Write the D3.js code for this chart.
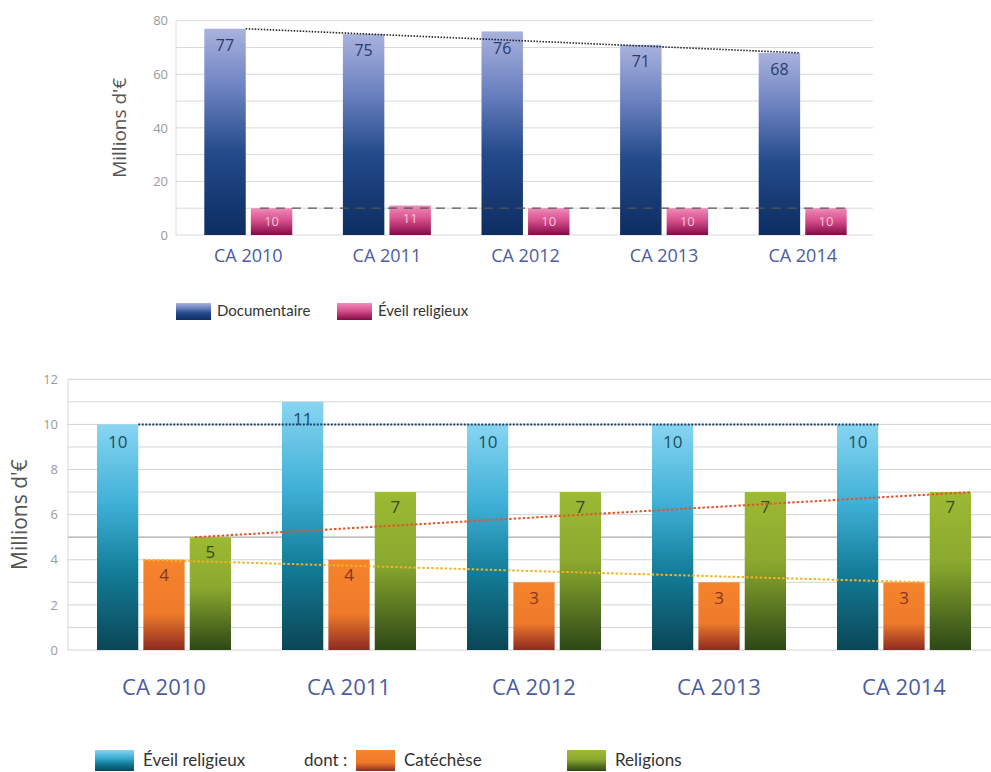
<!DOCTYPE html>
<html><head><meta charset="utf-8">
<script src="https://cdn.jsdelivr.net/npm/d3@7"></script>
<style>body{margin:0;background:#fff}svg{display:block}</style>
</head><body>
<script>
const categories = ["CA 2010","CA 2011","CA 2012","CA 2013","CA 2014"];
const documentaireValues = [77,75,76,71,68];
const eveilTopValues = [10,11,10,10,10];
const topTicks = [0,20,40,60,80];
const topGrid = [0,10,20,30,40,50,60,70,80];

const eveilValues = [10,11,10,10,10];
const catecheseValues = [4,4,3,3,3];
const religionsValues = [5,7,7,7,7];
const bottomTicks = [0,2,4,6,8,10,12];
const bottomGrid = [0,1,2,3,4,5,6,7,8,9,10,11,12];

const W = 991, H = 772;
const FONT = "'Open Sans', 'DejaVu Sans', sans-serif";
const LFONT = "Lato, 'Open Sans', sans-serif";
const svg = d3.select("body").append("svg").attr("width", W).attr("height", H);
const defs = svg.append("defs");
function grad(id, stops){
  const g = defs.append("linearGradient").attr("id", id).attr("x1",0).attr("y1",0).attr("x2",0).attr("y2",1);
  stops.forEach(s => g.append("stop").attr("offset", s[0]).attr("stop-color", s[1]));
}
grad("gDoc", [[0,"#a9b2de"],[0.3,"#6a80bf"],[0.6,"#234a8a"],[1,"#0d2d62"]]);
grad("gPink", [[0,"#ee8cb8"],[0.45,"#d9508e"],[1,"#820a46"]]);
grad("gCyan", [[0,"#88d5f2"],[0.35,"#3fb0d6"],[0.65,"#137e9a"],[1,"#0a4656"]]);
grad("gOrange", [[0,"#f5842c"],[0.6,"#ee7a2a"],[1,"#8e2a22"]]);
grad("gGreen", [[0,"#9dba34"],[0.45,"#8aa82e"],[1,"#2d4716"]]);

// ---------- TOP CHART ----------
const tx0 = d3.scaleBand().domain(categories).range([179, 872]).paddingInner(0).paddingOuter(0);
const tyS = d3.scaleLinear().domain([0,80]).range([235, 20.7]);
const tg = svg.append("g");
tg.selectAll("line.grid").data(topGrid).join("line")
  .attr("x1",176).attr("x2",873).attr("y1",d=>tyS(d)).attr("y2",d=>tyS(d))
  .attr("stroke","#d9d9d9").attr("stroke-width",1);
tg.append("line").attr("x1",176).attr("x2",176).attr("y1",tyS(80)).attr("y2",tyS(0)).attr("stroke","#dcdcdc");
const tAxis = d3.axisLeft(tyS).tickValues(topTicks).tickSize(0).tickPadding(0);
const tAx = tg.append("g").attr("transform","translate(168,0)").call(tAxis);
tAx.select(".domain").remove();
tAx.selectAll("text").attr("font-family",FONT).attr("font-size",13).attr("fill","#9a9a9a");
tg.append("text").attr("transform",`translate(121,${tyS(40)}) rotate(-90)`).attr("text-anchor","middle")
  .attr("dominant-baseline","middle").attr("font-family",FONT).attr("font-size",19).attr("fill","#555").text("Millions d'€");

const tx1 = d3.scaleBand().domain(["doc","pink"]).range([0, 88]).paddingInner(0.11);
const tGroupOff = (tx0.bandwidth() - 88)/2;
const topSeries = [
  {key:"doc", vals:documentaireValues, fill:"url(#gDoc)", lab:"#2c3a6c", off:18},
  {key:"pink", vals:eveilTopValues, fill:"url(#gPink)", lab:"#f6c4da", off:14}
];
topSeries.forEach(s=>{
  const bx = (c)=> tx0(c) + tGroupOff + tx1(s.key);
  tg.selectAll(null).data(categories).join("rect")
    .attr("x", c=>bx(c)).attr("width", tx1.bandwidth())
    .attr("y",(c,i)=>tyS(s.vals[i])).attr("height",(c,i)=>tyS(0)-tyS(s.vals[i]))
    .attr("fill", s.fill);
  tg.selectAll(null).data(categories).join("text")
    .attr("x", c=>bx(c)+tx1.bandwidth()/2).attr("y",(c,i)=>tyS(s.vals[i])+s.off)
    .attr("text-anchor","middle").attr("dominant-baseline","middle")
    .attr("font-family",FONT).attr("font-size", s.key==="doc"?16:13).attr("fill", s.lab)
    .text((c,i)=>s.vals[i]);
});
// trend lines top
{
  const c0 = categories[0], c4 = categories[4];
  const x1 = tx0(c0)+tGroupOff+tx1("doc")+tx1.bandwidth();
  const x2 = tx0(c4)+tGroupOff+tx1("doc")+tx1.bandwidth();
  tg.append("line").attr("x1",x1).attr("x2",x2)
    .attr("y1",tyS(documentaireValues[0])).attr("y2",tyS(documentaireValues[4]))
    .attr("stroke","#222").attr("stroke-width",1.6).attr("stroke-dasharray","1.5,1.5");
  const px1 = tx0(c0)+tGroupOff+tx1("pink")+9;
  const px2 = tx0(c4)+tGroupOff+tx1("pink")+tx1.bandwidth();
  tg.append("line").attr("x1",px1).attr("x2",px2)
    .attr("y1",tyS(eveilTopValues[0])).attr("y2",tyS(eveilTopValues[4]))
    .attr("stroke","#555").attr("stroke-width",1.3).attr("stroke-dasharray","9,7");
}
tg.selectAll(null).data(categories).join("text")
  .attr("x",c=>tx0(c)+tx0.bandwidth()/2).attr("y",257)
  .attr("text-anchor","middle").attr("dominant-baseline","middle")
  .attr("font-family",FONT).attr("font-size",18).attr("fill","#4d5c9e").text(c=>c);
// top legend
const topLegend = [{name:"Documentaire", fill:"url(#gDoc)", x:176},{name:"Éveil religieux", fill:"url(#gPink)", x:337}];
topLegend.forEach(l=>{
  tg.append("rect").attr("x",l.x).attr("y",303).attr("width",35).attr("height",17).attr("fill",l.fill);
  tg.append("text").attr("x",l.x+41).attr("y",312).attr("dominant-baseline","middle")
    .attr("font-family",LFONT).attr("font-size",15).attr("fill","#333").text(l.name);
});

// ---------- BOTTOM CHART ----------
const bx0 = d3.scaleBand().domain(categories).range([71.5, 996.5]);
const byS = d3.scaleLinear().domain([0,12]).range([650, 379.3]);
const bg = svg.append("g");
bg.selectAll(null).data(bottomGrid).join("line")
  .attr("x1",68).attr("x2",991).attr("y1",d=>byS(d)).attr("y2",d=>byS(d))
  .attr("stroke",d=>d===5?"#a8a8a8":"#d2d2d2").attr("stroke-width",d=>d===5?1.3:1);
bg.append("line").attr("x1",68).attr("x2",68).attr("y1",byS(12)).attr("y2",byS(0)).attr("stroke","#d6d6d6");
const bAxis = d3.axisLeft(byS).tickValues(bottomTicks).tickSize(0).tickPadding(0);
const bAx = bg.append("g").attr("transform","translate(58,0)").call(bAxis);
bAx.select(".domain").remove();
bAx.selectAll("text").attr("font-family",FONT).attr("font-size",13).attr("fill","#9a9a9a");
bg.append("text").attr("transform",`translate(21,${byS(6)}) rotate(-90)`).attr("text-anchor","middle")
  .attr("dominant-baseline","middle").attr("font-family",FONT).attr("font-size",21).attr("fill","#555").text("Millions d'€");

const bx1 = d3.scaleBand().domain(["eveil","cat","rel"]).range([0,134]).paddingInner(0.11);
const bGroupOff = (bx0.bandwidth()-134)/2;
const bottomSeries = [
  {key:"eveil", vals:eveilValues, fill:"url(#gCyan)", lab:"#1b4d5e", off:19},
  {key:"cat", vals:catecheseValues, fill:"url(#gOrange)", lab:"#8a3322", off:17},
  {key:"rel", vals:religionsValues, fill:"url(#gGreen)", lab:"#3b4a1e", off:16}
];
bottomSeries.forEach(s=>{
  const bx = c=> bx0(c)+bGroupOff+bx1(s.key);
  bg.selectAll(null).data(categories).join("rect")
    .attr("x",c=>bx(c)).attr("width",bx1.bandwidth())
    .attr("y",(c,i)=>byS(s.vals[i])).attr("height",(c,i)=>byS(0)-byS(s.vals[i]))
    .attr("fill",s.fill);
  bg.selectAll(null).data(categories).join("text")
    .attr("x",c=>bx(c)+bx1.bandwidth()/2).attr("y",(c,i)=>byS(s.vals[i])+s.off)
    .attr("text-anchor","middle").attr("dominant-baseline","middle")
    .attr("font-family",FONT).attr("font-size",17).attr("fill",s.lab).text((c,i)=>s.vals[i]);
});
// trend lines bottom
{
  const c0 = categories[0], c4 = categories[4];
  const bw = bx1.bandwidth();
  const base = c=> bx0(c)+bGroupOff;
  bg.append("line").attr("x1",base(c0)+bx1("eveil")+bw).attr("x2",base(c4)+bx1("eveil")+bw)
    .attr("y1",byS(eveilValues[0])).attr("y2",byS(eveilValues[4]))
    .attr("stroke","#1d3f66").attr("stroke-width",2).attr("stroke-dasharray","2,1.5");
  bg.append("line").attr("x1",base(c0)+bx1("rel")+5).attr("x2",base(c4)+bx1("rel")+bw)
    .attr("y1",byS(religionsValues[0])).attr("y2",byS(religionsValues[4]))
    .attr("stroke","#e0562a").attr("stroke-width",2).attr("stroke-dasharray","2.5,2");
  bg.append("line").attr("x1",base(c0)+bx1("cat")).attr("x2",base(c4)+bx1("cat")+bw)
    .attr("y1",byS(catecheseValues[0])).attr("y2",byS(catecheseValues[4]))
    .attr("stroke","#f1b323").attr("stroke-width",2).attr("stroke-dasharray","2.5,2");
}
bg.selectAll(null).data(categories).join("text")
  .attr("x",c=>bx0(c)+bx0.bandwidth()/2).attr("y",689)
  .attr("text-anchor","middle").attr("dominant-baseline","middle")
  .attr("font-family",FONT).attr("font-size",22).attr("fill","#4d5c9e").text(c=>c);
// bottom legend
const bottomLegend = [
  {name:"Éveil religieux", fill:"url(#gCyan)", x:95},
  {name:"Catéchèse", fill:"url(#gOrange)", x:356},
  {name:"Religions", fill:"url(#gGreen)", x:567}
];
bottomLegend.forEach(l=>{
  bg.append("rect").attr("x",l.x).attr("y",750).attr("width",39).attr("height",21).attr("fill",l.fill);
  bg.append("text").attr("x",l.x+48).attr("y",762).attr("dominant-baseline","middle")
    .attr("font-family",LFONT).attr("font-size",17).attr("fill","#333").text(l.name);
});
bg.append("text").attr("x",304).attr("y",762).attr("dominant-baseline","middle")
  .attr("font-family",LFONT).attr("font-size",17).attr("fill","#333").text("dont :");
</script>
</body></html>
